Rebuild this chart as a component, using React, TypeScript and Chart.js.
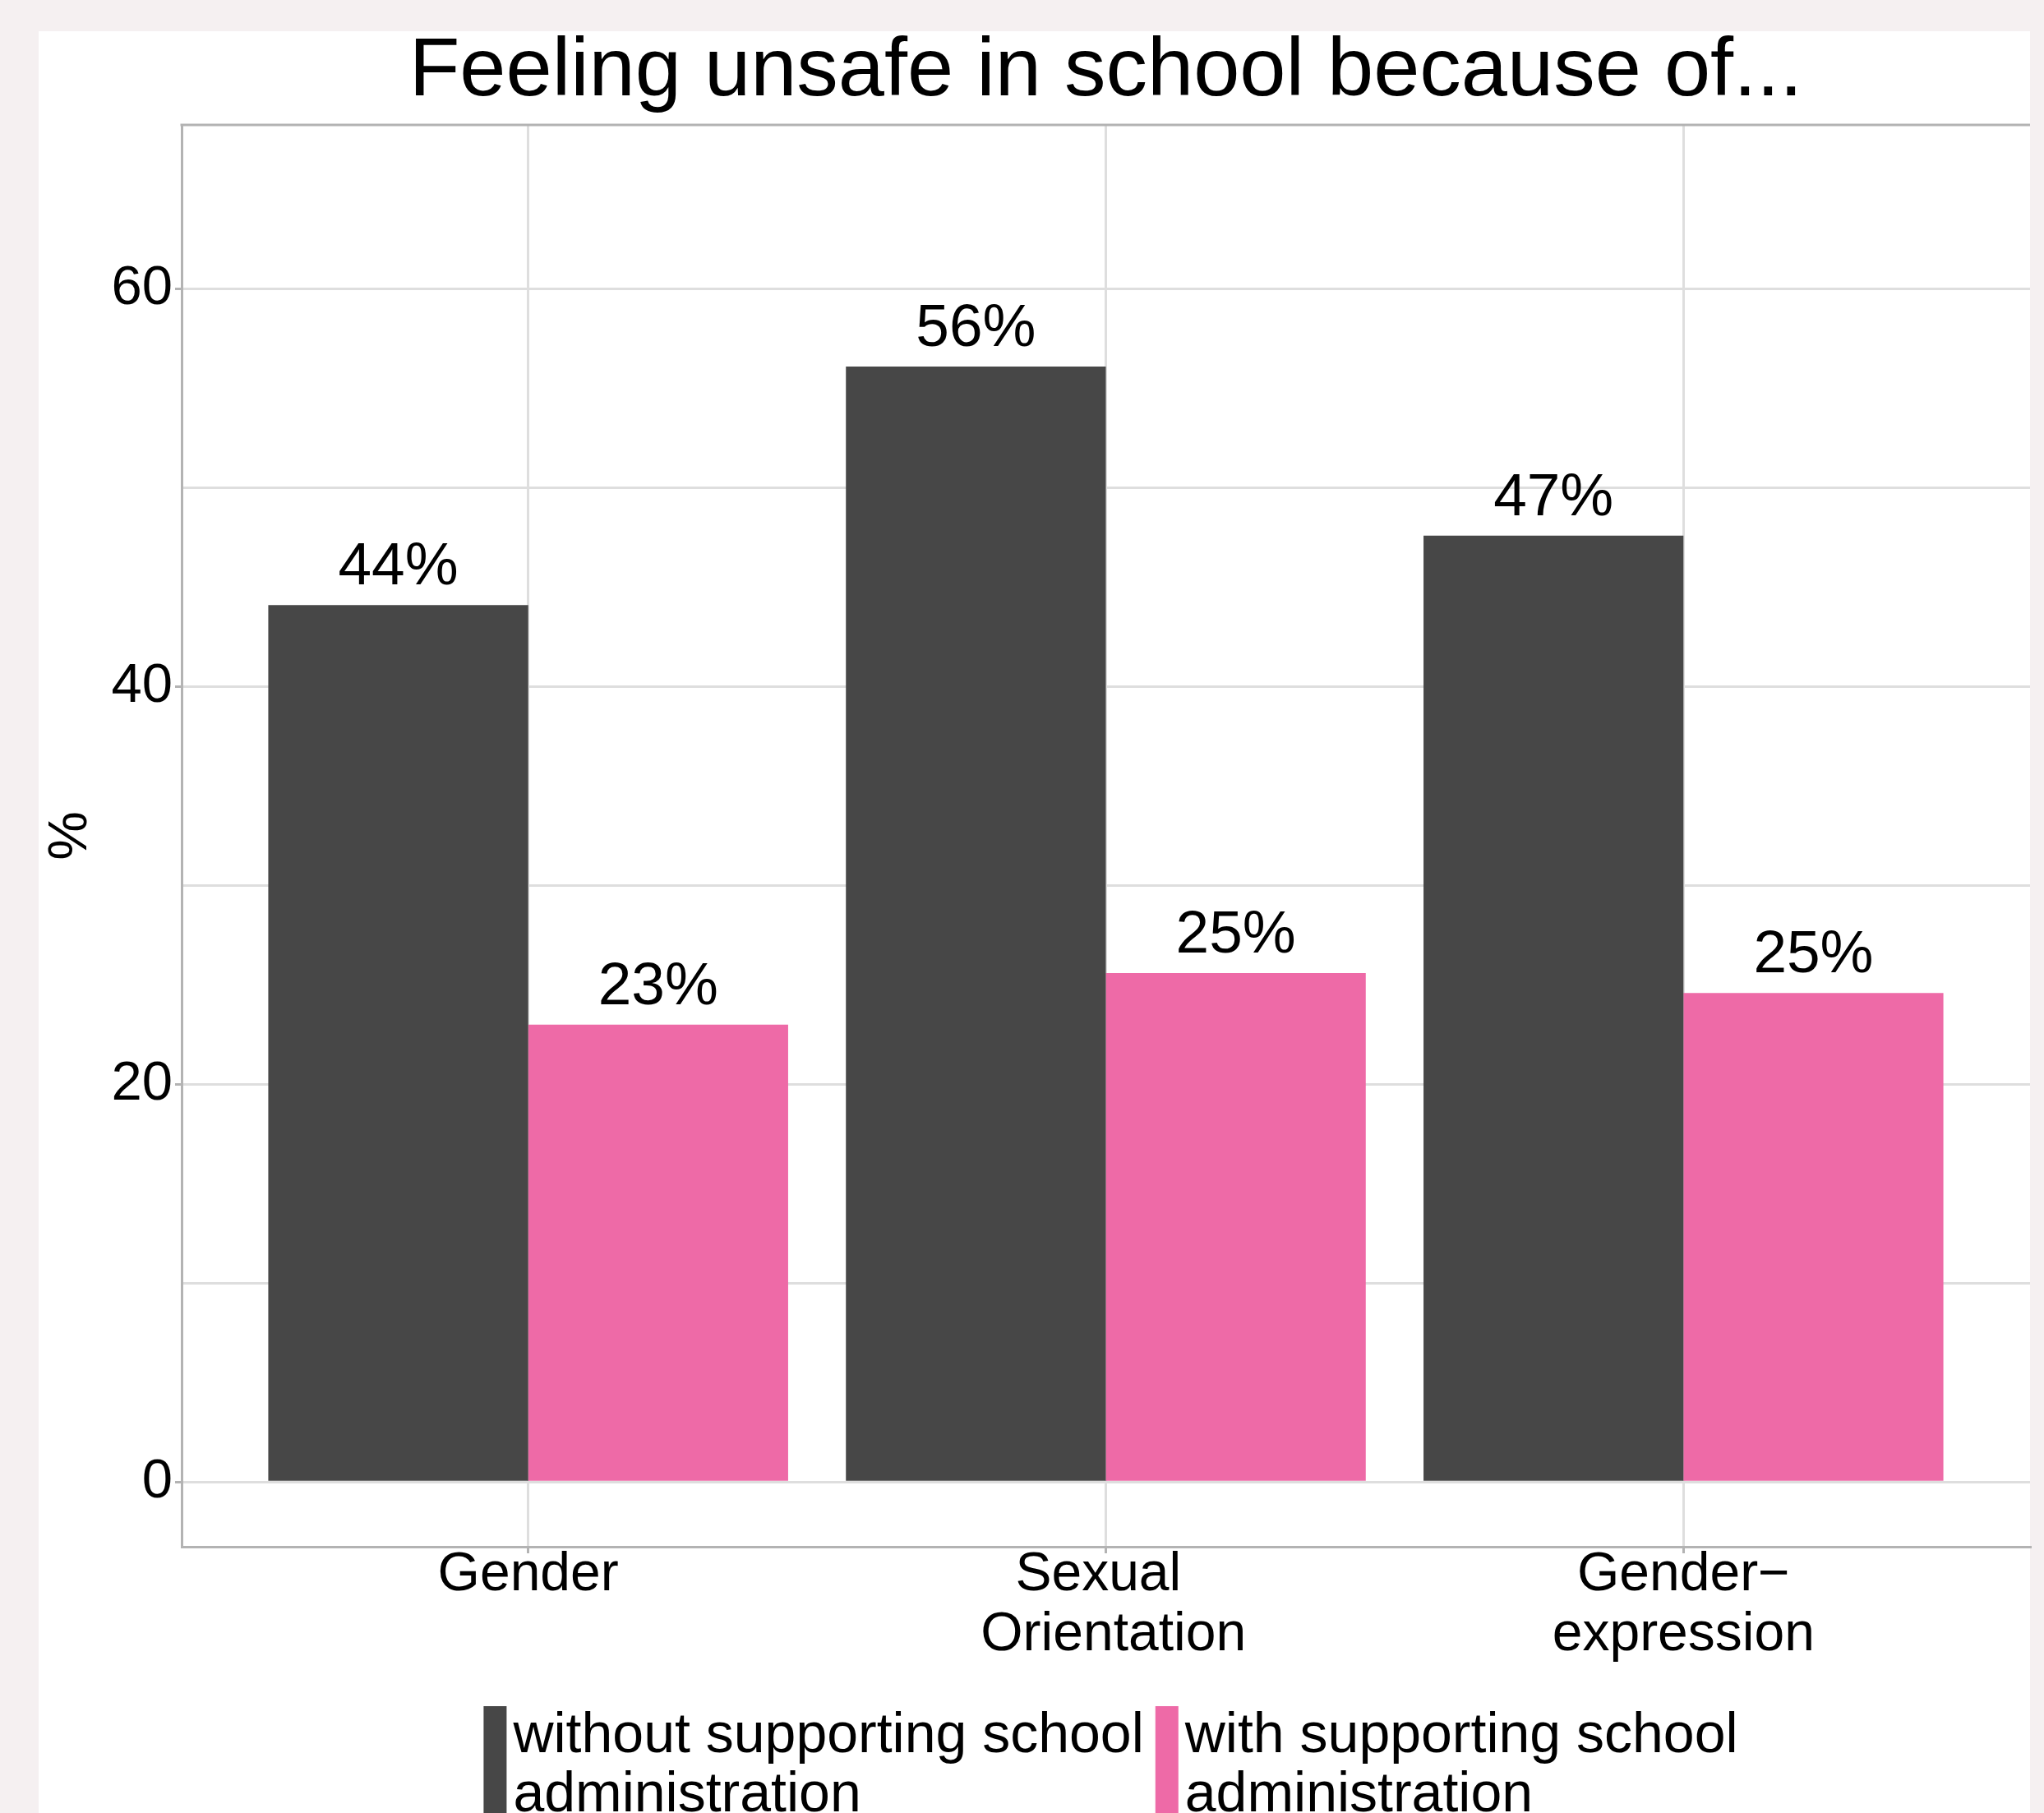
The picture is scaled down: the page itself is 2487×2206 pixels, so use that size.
import React, { useEffect, useRef } from "react";
import { Chart, registerables } from "chart.js";

Chart.register(...registerables);

// ---- data ----
const categories: string[][] = [["Gender"], ["Sexual ", " Orientation"], ["Gender\u2212", "expression"]];
const seriesNames: string[][] = [
  ["without supporting school", "administration"],
  ["with supporting school", "administration"],
];
const withoutValues: number[] = [44.1, 56.1, 47.6];
const withValues: number[] = [23.0, 25.6, 24.6];
const withoutLabels: string[] = ["44%", "56%", "47%"];
const withLabels: string[] = ["23%", "25%", "25%"];
const yTicks: number[] = [0, 10, 20, 30, 40, 50, 60];
const yLabelTicks: number[] = [0, 20, 40, 60];
const titleText = "Feeling unsafe in school because of...";
const yTitleText = "%";

// ---- style ----
const FONT = "'Liberation Sans', Arial, Helvetica, sans-serif";
const seriesColors = ["#474747", "#EE6AA7"];
const GRID = "#DEDEDE";
const BORDER = "#B3B3B3";
const W = 2487;
const H = 2206;

const backgroundPlugin = {
  id: "bgPanel",
  beforeDraw(chart: any) {
    const { ctx } = chart;
    ctx.save();
    ctx.fillStyle = "#F5F0F1";
    ctx.fillRect(0, 0, chart.width, chart.height);
    ctx.fillStyle = "#FFFFFF";
    ctx.fillRect(47, 38, chart.chartArea.right - 47, chart.height - 38);
    ctx.restore();
  },
};

const topBorderPlugin = {
  id: "topBorder",
  beforeDatasetsDraw(chart: any) {
    const { ctx, chartArea } = chart;
    ctx.save();
    ctx.strokeStyle = BORDER;
    ctx.lineWidth = 3;
    ctx.beginPath();
    ctx.moveTo(chartArea.left - 1.5, chartArea.top);
    ctx.lineTo(chartArea.right, chartArea.top);
    ctx.stroke();
    ctx.restore();
  },
};

const labelSets = [withoutLabels, withLabels];

const barLabelPlugin = {
  id: "barLabels",
  afterDatasetsDraw(chart: any) {
    const { ctx } = chart;
    ctx.save();
    ctx.font = `73px ${FONT}`;
    ctx.fillStyle = "#000";
    ctx.textAlign = "center";
    ctx.textBaseline = "alphabetic";
    chart.data.datasets.forEach((_: any, di: number) => {
      const meta = chart.getDatasetMeta(di);
      meta.data.forEach((el: any, i: number) => {
        ctx.fillText(labelSets[di][i], el.x, el.y - 25);
      });
    });
    ctx.restore();
  },
};

const legendPlugin = {
  id: "customLegend",
  afterDraw(chart: any) {
    const { ctx, chartArea } = chart;
    ctx.save();
    ctx.font = `68px ${FONT}`;
    ctx.fillStyle = "#000";
    ctx.textBaseline = "alphabetic";
    ctx.textAlign = "left";
    const keyW = 28;
    const gap = 8;
    const itemGap = 14;
    const widths = seriesNames.map((lines) => Math.max(...lines.map((l) => ctx.measureText(l).width)));
    const total = widths.reduce((a, b) => a + b, 0) + seriesNames.length * (keyW + gap) + itemGap * (seriesNames.length - 1);
    let x = (chartArea.left + chartArea.right) / 2 - total / 2 + 6;
    const keyTop = 2076;
    const base1 = 2132;
    const lineH = 72;
    seriesNames.forEach((lines, i) => {
      ctx.fillStyle = seriesColors[i];
      ctx.fillRect(x, keyTop, keyW, 170);
      ctx.fillStyle = "#000";
      lines.forEach((l, li) => ctx.fillText(l, x + keyW + gap, base1 + li * lineH));
      x += keyW + gap + widths[i] + itemGap;
    });
    ctx.restore();
  },
};

export default function App() {
  const ref = useRef<HTMLCanvasElement | null>(null);

  useEffect(() => {
    if (!ref.current) return;
    const chart = new Chart(ref.current, {
      type: "bar",
      data: {
        datasets: [
          {
            label: seriesNames[0].join(" "),
            data: withoutValues.map((v, i) => ({ x: i, y: v })),
            backgroundColor: seriesColors[0],
            borderWidth: 0,
          },
          {
            label: seriesNames[1].join(" "),
            data: withValues.map((v, i) => ({ x: i, y: v })),
            backgroundColor: seriesColors[1],
            borderWidth: 0,
          },
        ],
      },
      options: {
        responsive: false,
        animation: false,
        devicePixelRatio: 1,
        events: [],
        categoryPercentage: 0.9,
        barPercentage: 1.0,
        layout: { padding: { top: 0, left: 0, right: 17, bottom: 0 } },
        plugins: {
          legend: { display: false },
          tooltip: { enabled: false },
          title: {
            display: true,
            text: titleText,
            fullSize: false,
            color: "#000",
            font: { family: FONT, size: 101, weight: "normal", lineHeight: 1.2 },
            padding: { top: 28, bottom: 2.8 },
          },
        },
        scales: {
          x: {
            type: "linear",
            min: -0.6,
            max: 2.6,
            offset: false,
            afterBuildTicks: (s: any) => {
              s.ticks = categories.map((_, i) => ({ value: i }));
            },
            afterFit: (s: any) => {
              s.height = H - 1882;
            },
            ticks: {
              callback: (v: any) => categories[Math.round(Number(v))],
              color: "#000",
              font: { family: FONT, size: 66, lineHeight: 73 / 66 },
              padding: -10,
              maxRotation: 0,
              minRotation: 0,
              autoSkip: false,
            },
            grid: {
              offset: false,
              color: GRID,
              lineWidth: 3,
              tickLength: 8,
              tickColor: BORDER,
              tickWidth: 3,
            },
            border: { display: true, color: BORDER, width: 3 },
          },
          y: {
            type: "linear",
            min: -3.25,
            max: 68.25,
            afterBuildTicks: (s: any) => {
              s.ticks = yTicks.map((v) => ({ value: v }));
            },
            afterFit: (s: any) => {
              s.width = 221;
            },
            ticks: {
              callback: (v: any) => (yLabelTicks.includes(Number(v)) ? String(v) : ""),
              color: "#000",
              font: { family: FONT, size: 67 },
              padding: 3,
              autoSkip: false,
            },
            grid: {
              color: GRID,
              lineWidth: 3,
              tickLength: 8,
              tickWidth: 3,
              tickColor: (c: any) => (c.tick && yLabelTicks.includes(c.tick.value) ? BORDER : "rgba(0,0,0,0)"),
            },
            border: { display: true, color: BORDER, width: 3 },
            title: {
              display: true,
              text: yTitleText,
              color: "#000",
              font: { family: FONT, size: 67, lineHeight: 1.2 },
              padding: { top: 46, bottom: 0 },
            },
          },
        },
      } as any,
      plugins: [backgroundPlugin, topBorderPlugin, barLabelPlugin, legendPlugin],
    });
    return () => chart.destroy();
  }, []);

  return (
    <div style={{ position: "absolute", left: 0, top: 0, width: W, height: H, overflow: "hidden" }}>
      <canvas ref={ref} width={W} height={H} style={{ display: "block", width: W, height: H }} />
    </div>
  );
}
